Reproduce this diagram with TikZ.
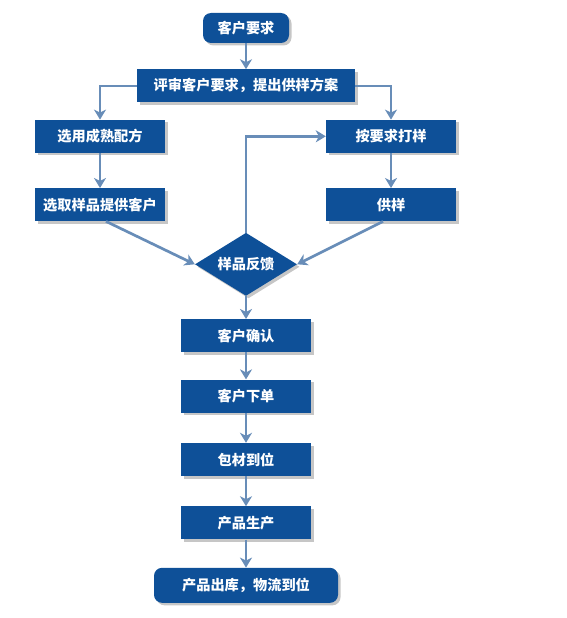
\documentclass[tikz,border=0pt]{standalone}
\usepackage{fontspec}
\setmainfont{Noto Sans CJK SC}
\usetikzlibrary{arrows.meta,positioning,shapes.geometric,shadows}
\definecolor{boxblue}{RGB}{14,80,152}
\definecolor{linkblue}{RGB}{104,141,184}

\begin{document}
\begin{tikzpicture}[
  x=1pt,
  y=1pt,
  node distance=28pt and 28pt,
  every node/.style={font=\bfseries\fontsize{14.2}{16}\selectfont, text=white},
  stepbox/.style={fill=boxblue, minimum width=130pt, minimum height=33pt, inner sep=0pt, drop shadow={shadow xshift=2.5pt, shadow yshift=-2.5pt, fill=black!50, opacity=0.45}},
  endbox/.style={stepbox, rounded corners=8pt},
  decision/.style={diamond, aspect=1.6, fill=boxblue, minimum width=102pt, minimum height=63pt, inner sep=0pt, drop shadow={shadow xshift=2.5pt, shadow yshift=-2.5pt, fill=black!50, opacity=0.45}},
  arr/.style={-{Stealth[length=10pt, width=12pt, inset=3pt]}, draw=linkblue, line width=2.7pt}
]
\useasboundingbox (0,0) rectangle (566,-618);

\node[endbox, minimum width=86pt, minimum height=30pt] (request) at (246,-28) {客户要求};
\node[stepbox, minimum width=218pt, below=26pt of request] (review) {评审客户要求，提出供样方案};
\node[stepbox, below=17pt of review, xshift=-146pt] (mature) {选用成熟配方};
\node[stepbox, below=35pt of mature] (pick) {选取样品提供客户};
\node[stepbox, below=17pt of review, xshift=145pt] (sample) {按要求打样};
\node[stepbox, below=35pt of sample] (supply) {供样};
\node[decision, below=130pt of review] (feedback) {样品反馈};
\node[stepbox, below=23pt of feedback] (confirm) {客户确认};
\node[stepbox, below=27pt of confirm] (order) {客户下单};
\node[stepbox, below=30pt of order] (material) {包材到位};
\node[stepbox, below=30pt of material] (produce) {产品生产};
\node[endbox, minimum width=184pt, minimum height=35pt, below=28pt of produce] (ship) {产品出库，物流到位};

\draw[arr] (request) -- (review);
\draw[arr] (review.west) -| (mature.north);
\draw[arr] (review.east) -| (sample.north);
\draw[arr] (mature) -- (pick);
\draw[arr] (sample) -- (supply);
\draw[arr] ([xshift=6pt]pick.south) -- (feedback.west);
\draw[arr] ([xshift=-8pt]supply.south) -- (feedback.east);
\draw[arr] (feedback.north) |- (sample.west);
\draw[arr] (feedback) -- (confirm);
\draw[arr] (confirm) -- (order);
\draw[arr] (order) -- (material);
\draw[arr] (material) -- (produce);
\draw[arr] (produce) -- (ship);

\end{tikzpicture}
\end{document}
